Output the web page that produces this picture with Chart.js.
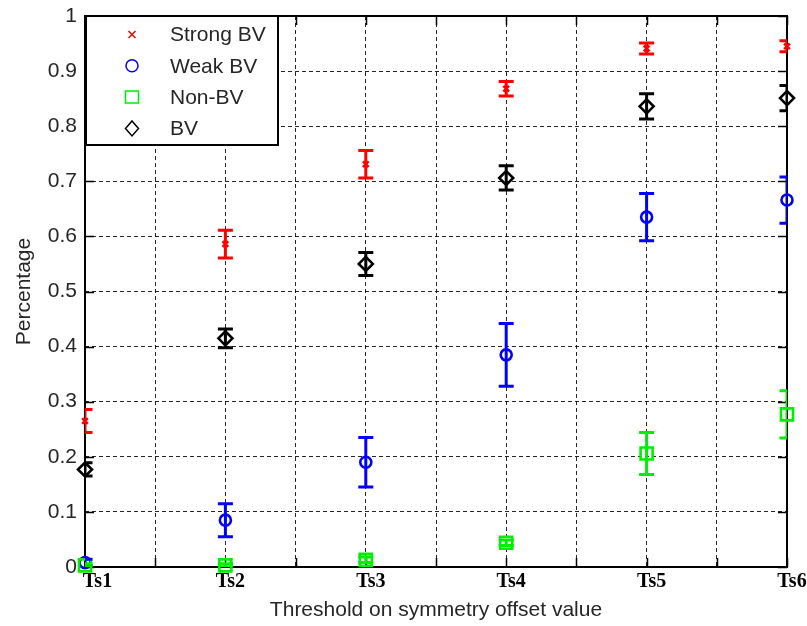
<!DOCTYPE html>
<html>
<head>
<meta charset="utf-8">
<script src="https://cdn.jsdelivr.net/npm/chart.js@4/dist/chart.umd.min.js"></script>
<style>
  html, body { margin: 0; padding: 0; background: #fff; }
  #wrap { width: 807px; height: 626px; }
</style>
</head>
<body>
<div id="wrap"><canvas id="c" width="807" height="626"></canvas></div>
<script>
// Threshold levels on the x axis and y tick labels
const thresholds = ['Ts1', 'Ts2', 'Ts3', 'Ts4', 'Ts5', 'Ts6'];
const yTickLabels = ['0', '0.1', '0.2', '0.3', '0.4', '0.5', '0.6', '0.7', '0.8', '0.9', '1'];

// Mean percentage per threshold and the half-length of each error bar
const strongBV    = [0.265, 0.586, 0.731, 0.868, 0.941, 0.945];
const strongBVErr = [0.021, 0.025, 0.025, 0.013, 0.010, 0.010];

const weakBV      = [0.008, 0.085, 0.190, 0.385, 0.635, 0.666];
const weakBVErr   = [0.006, 0.030, 0.045, 0.057, 0.043, 0.042];

const nonBV       = [0.003, 0.003, 0.013, 0.044, 0.206, 0.277];
const nonBVErr    = [0.003, 0.003, 0.005, 0.005, 0.038, 0.043];

const bv          = [0.177, 0.415, 0.550, 0.706, 0.836, 0.851];
const bvErr       = [0.012, 0.017, 0.021, 0.022, 0.023, 0.023];

const SANS = '"Liberation Sans", Arial, sans-serif';
const SERIF = '"Liberation Serif", "Times New Roman", serif';
const TEXT = '#262626';

function points(values) {
  return values.map((v, i) => ({ x: i + 1, y: v }));
}

function series(label, values, errors, color, style, radius, order) {
  return {
    label,
    data: points(values),
    errors,
    showLine: false,
    pointStyle: style,
    pointRadius: radius,
    pointHoverRadius: radius,
    pointBorderWidth: 2.6,
    borderColor: color,
    backgroundColor: 'rgba(0,0,0,0)',
    pointBackgroundColor: 'rgba(0,0,0,0)',
    clip: false,
    order
  };
}

// Box around the axes with inward tick marks on all four sides
const axesFrame = {
  id: 'axesFrame',
  beforeDatasetsDraw(chart) {
    const { ctx, chartArea: a, scales: { x, y } } = chart;
    const len = 9;
    ctx.save();
    ctx.strokeStyle = '#000';
    ctx.lineWidth = 1.5;
    ctx.setLineDash([]);
    ctx.beginPath();
    x.ticks.forEach(t => {
      const px = Math.round(x.getPixelForValue(t.value)) + 0.5;
      ctx.moveTo(px, a.bottom); ctx.lineTo(px, a.bottom - len);
      ctx.moveTo(px, a.top); ctx.lineTo(px, a.top + len);
    });
    y.ticks.forEach(t => {
      const py = Math.round(y.getPixelForValue(t.value)) + 0.5;
      ctx.moveTo(a.left, py); ctx.lineTo(a.left + len, py);
      ctx.moveTo(a.right, py); ctx.lineTo(a.right - len, py);
    });
    ctx.stroke();
    ctx.lineWidth = 2;
    ctx.strokeRect(a.left, a.top, a.right - a.left, a.bottom - a.top);
    ctx.restore();
  }
};

// Vertical error bars with caps, clipped to the axes box
const errorBars = {
  id: 'errorBars',
  afterDatasetsDraw(chart) {
    const { ctx, chartArea: a, scales: { x, y } } = chart;
    const cap = 7.5;
    ctx.save();
    ctx.beginPath();
    ctx.rect(a.left, a.top, a.right - a.left, a.bottom - a.top);
    ctx.clip();
    chart.data.datasets.forEach(ds => {
      ctx.strokeStyle = ds.borderColor;
      ctx.lineWidth = 3;
      ds.data.forEach((p, i) => {
        const e = ds.errors[i];
        const px = x.getPixelForValue(p.x);
        const top = y.getPixelForValue(p.y + e);
        const bot = y.getPixelForValue(p.y - e);
        ctx.beginPath();
        ctx.moveTo(px, top); ctx.lineTo(px, bot);
        ctx.moveTo(px - cap, top); ctx.lineTo(px + cap, top);
        ctx.moveTo(px - cap, bot); ctx.lineTo(px + cap, bot);
        ctx.stroke();
      });
    });
    ctx.restore();
  }
};

function drawMarker(ctx, style, cx, cy) {
  ctx.beginPath();
  if (style === 'crossRot') {
    const r = 3.5;
    ctx.moveTo(cx - r, cy - r); ctx.lineTo(cx + r, cy + r);
    ctx.moveTo(cx + r, cy - r); ctx.lineTo(cx - r, cy + r);
  } else if (style === 'circle') {
    ctx.arc(cx, cy, 6, 0, Math.PI * 2);
  } else if (style === 'rect') {
    ctx.rect(cx - 6.5, cy - 6, 13, 12);
  } else if (style === 'rectRot') {
    ctx.moveTo(cx, cy - 7.5); ctx.lineTo(cx + 6.5, cy);
    ctx.lineTo(cx, cy + 7.5); ctx.lineTo(cx - 6.5, cy);
    ctx.closePath();
  }
  ctx.stroke();
}

// Boxed legend in the upper-left corner of the axes
const boxLegend = {
  id: 'boxLegend',
  afterDraw(chart) {
    const { ctx, chartArea: a } = chart;
    const w = 192, h = 129;
    ctx.save();
    ctx.fillStyle = '#fff';
    ctx.fillRect(a.left, a.top, w, h);
    ctx.strokeStyle = '#000';
    ctx.lineWidth = 2;
    ctx.strokeRect(a.left + 1, a.top, w, h);
    ctx.font = '21px ' + SANS;
    ctx.textBaseline = 'middle';
    ctx.textAlign = 'left';
    chart.data.datasets.forEach((ds, i) => {
      const cy = a.top + 18.5 + i * 31.3;
      ctx.strokeStyle = ds.borderColor;
      ctx.lineWidth = 1.5;
      drawMarker(ctx, ds.pointStyle, a.left + 47, cy);
      ctx.fillStyle = TEXT;
      ctx.fillText(ds.label, a.left + 85, cy + 1);
    });
    ctx.restore();
  }
};

new Chart(document.getElementById('c'), {
  type: 'scatter',
  data: {
    datasets: [
      series('Strong BV', strongBV, strongBVErr, '#ff0000', 'crossRot', 4, 3),
      series('Weak BV', weakBV, weakBVErr, '#0000ff', 'circle', 5.5, 2),
      series('Non-BV', nonBV, nonBVErr, '#00ee00', 'rect', 8.5, 1),
      series('BV', bv, bvErr, '#000000', 'rectRot', 7, 0)
    ]
  },
  options: {
    responsive: false,
    animation: false,
    devicePixelRatio: 1,
    layout: { padding: { left: 0, right: 20, top: 16, bottom: 0 } },
    plugins: {
      legend: { display: false },
      tooltip: { enabled: false }
    },
    scales: {
      x: {
        type: 'linear',
        min: 1,
        max: 6,
        afterFit(scale) { scale.height = 59; },
        afterBuildTicks(scale) {
          const t = [];
          for (let k = 0; k <= 10; k++) t.push({ value: 1 + k * 0.5 });
          scale.ticks = t;
        },
        ticks: {
          autoSkip: false,
          maxRotation: 0,
          padding: 3,
          labelOffset: 5,
          color: '#000',
          font: { family: SERIF, size: 20, weight: 'bold' },
          callback(v) {
            if (!Number.isInteger(v)) return '';
            const name = thresholds[v - 1];
            return v === 1 ? '   ' + name : name;
          }
        },
        grid: { color: 'rgba(0,0,0,0.85)', lineWidth: 1, drawTicks: false },
        border: { display: false, dash: [4, 3] },
        title: {
          display: true,
          text: 'Threshold on symmetry offset value',
          color: TEXT,
          font: { family: SANS, size: 21 },
          padding: { top: 0, bottom: 3 }
        }
      },
      y: {
        min: 0,
        max: 1,
        afterFit(scale) {
          scale.width = 85;
          scale.paddingTop = 0;
          scale.paddingBottom = 0;
        },
        ticks: {
          stepSize: 0.1,
          padding: 8,
          color: TEXT,
          font: { family: SANS, size: 21 },
          callback(v) { return yTickLabels[Math.round(v * 10)]; }
        },
        grid: { color: 'rgba(0,0,0,0.85)', lineWidth: 1, drawTicks: false },
        border: { display: false, dash: [4, 3] },
        title: {
          display: true,
          text: 'Percentage',
          color: TEXT,
          font: { family: SANS, size: 21 },
          padding: { top: 12, bottom: 0 }
        }
      }
    }
  },
  plugins: [axesFrame, errorBars, boxLegend]
});
</script>
</body>
</html>
